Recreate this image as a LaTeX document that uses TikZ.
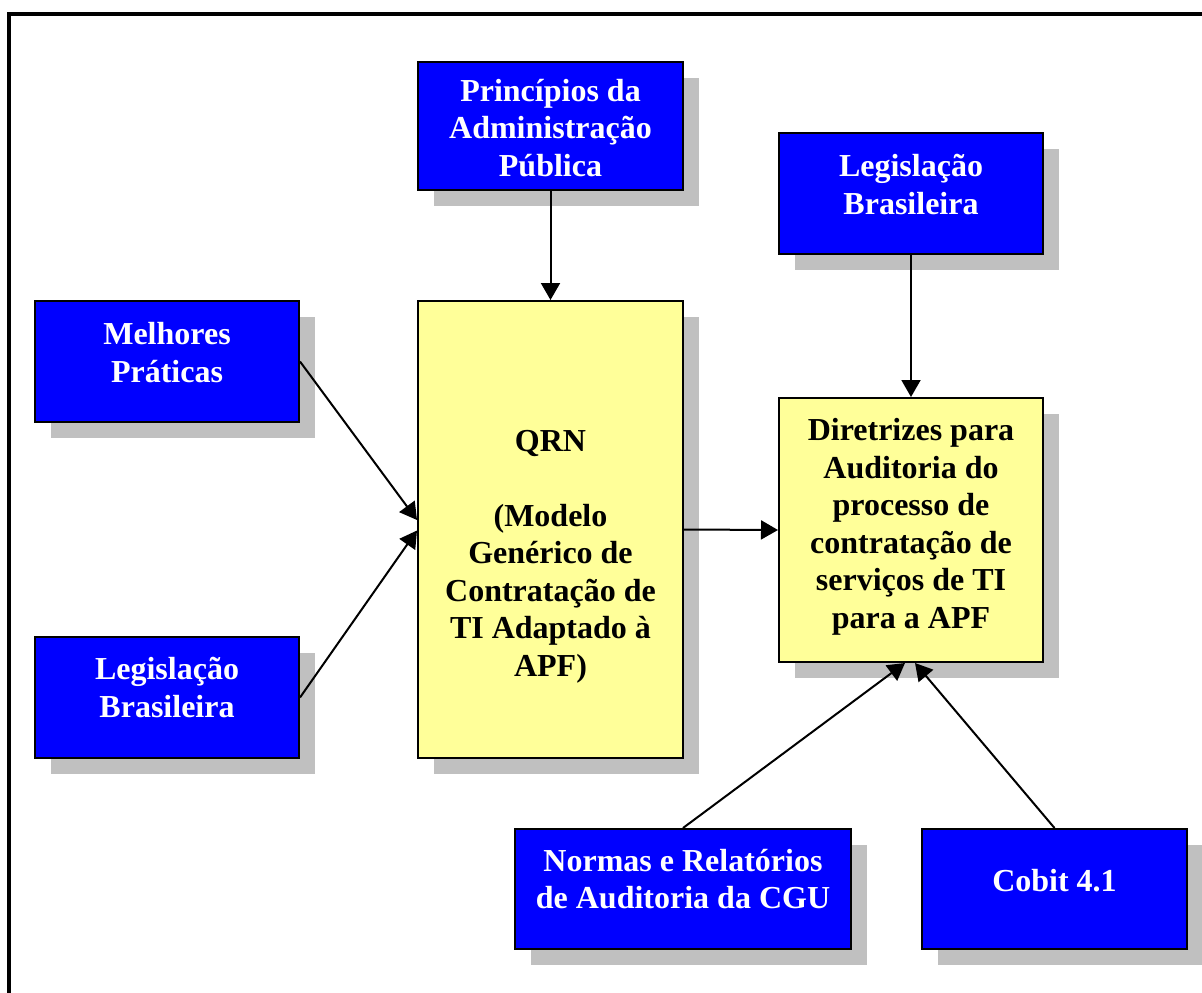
\documentclass[tikz,border=0pt]{standalone}
\usepackage{fontspec}
\setmainfont{Liberation Serif}
\usetikzlibrary{arrows.meta,shadows}
\definecolor{boxblue}{RGB}{0,0,255}
\definecolor{boxyellow}{RGB}{255,255,153}
\definecolor{shadowgray}{RGB}{192,192,192}
\begin{document}
\begin{tikzpicture}[x=1pt, y=-1pt,
    box/.style={draw=black, line width=2pt, inner sep=0pt,
      drop shadow={shadow xshift=16pt, shadow yshift=-16pt, fill=shadowgray, opacity=1}},
    bluebox/.style={box, fill=boxblue},
    yellowbox/.style={box, fill=boxyellow},
    boxtext/.style={align=center, inner sep=0pt, font=\fontsize{32}{37.5}\selectfont\bfseries},
    bluetext/.style={boxtext, text=white},
    yellowtext/.style={boxtext, text=black},
    conn/.style={line width=2pt, -{Triangle[length=17pt,width=19pt]}}]
      \useasboundingbox (0,0) rectangle (1202,993);
      \begin{scope}
        \clip (0,0) rectangle (1202,993);
        \draw[line width=4pt] (9,14) rectangle (1230,1020);
      \end{scope}
      % inputs and results
      \node[bluebox, minimum width=265pt, minimum height=128pt,
        label={[bluetext, yshift=-2pt]center:Princípios da\\Administração\\Pública}] (prin) at (550.5,126) {};
      \node[bluebox, minimum width=264pt, minimum height=121pt,
        label={[bluetext, yshift=9pt]center:Legislação\\Brasileira}] (legtop) at (911,193.5) {};
      \node[bluebox, minimum width=264pt, minimum height=121pt,
        label={[bluetext, yshift=9pt]center:Melhores\\Práticas}] (melh) at (167,361.5) {};
      \node[bluebox, minimum width=264pt, minimum height=121pt,
        label={[bluetext, yshift=10pt]center:Legislação\\Brasileira}] (legleft) at (167,697.5) {};
      \node[yellowbox, minimum width=265pt, minimum height=457pt,
        label={[yellowtext, yshift=-27pt]center:QRN\\[37.5pt](Modelo\\Genérico de\\Contratação de\\TI Adaptado à\\APF)}] (qrn) at (550.5,529.5) {};
      \node[yellowbox, minimum width=264pt, minimum height=264pt,
        label={[yellowtext, yshift=3pt]center:Diretrizes para\\Auditoria do\\processo de\\contratação de\\serviços de TI\\para a APF}] (dir) at (911,530) {};
      \node[bluebox, minimum width=336pt, minimum height=120pt,
        label={[bluetext, yshift=10pt]center:Normas e Relatórios\\de Auditoria da CGU}] (normas) at (683,889) {};
      \node[bluebox, minimum width=265pt, minimum height=120pt,
        label={[bluetext, yshift=8pt]center:Cobit 4.1}] (cobit) at (1054.5,889) {};
      % connectors
      \draw[conn] (prin) -- (qrn);
      \draw[conn] (legtop) -- (dir);
      \draw[conn] (melh.east) -- ([yshift=9.5pt]qrn.west);
      \draw[conn] (legleft.east) -- ([yshift=-1pt]qrn.west);
      \draw[conn] (qrn.east) -- (dir.west);
      \draw[conn] (normas.north) -- ([xshift=-6pt]dir.south);
      \draw[conn] (cobit.north) -- ([xshift=4pt]dir.south);
\end{tikzpicture}
\end{document}
